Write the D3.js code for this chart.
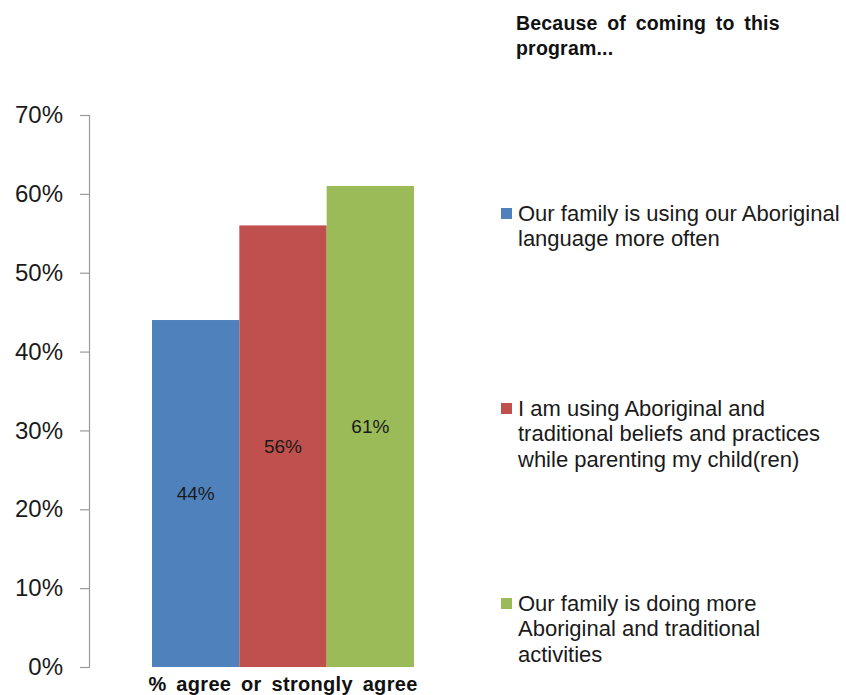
<!DOCTYPE html>
<html>
<head>
<meta charset="utf-8">
<script src="https://cdn.jsdelivr.net/npm/d3@7"></script>
<style>
  body { margin: 0; background: #fff; }
  svg { display: block; font-family: Arial, "Liberation Sans", sans-serif; }
</style>
</head>
<body>
<svg id="chart" width="846" height="695"></svg>
<script>
// Survey result: share agreeing or strongly agreeing, one bar per statement
const category = "% agree or strongly agree";
const seriesNames = [
  ["Our family is using our Aboriginal", "language more often"],
  ["I am using Aboriginal and", "traditional beliefs and practices", "while parenting my child(ren)"],
  ["Our family is doing more", "Aboriginal and traditional", "activities"]
];
const seriesValues = [0.44, 0.56, 0.61];
const seriesColors = ["#4f81bd", "#c0504d", "#9bbb59"];
const yTicks = [0, 0.1, 0.2, 0.3, 0.4, 0.5, 0.6, 0.7];
const titleLines = ["Because of coming to this", "program..."];

const svg = d3.select("#chart");

const plot = { left: 89, top: 115, bottom: 667, barLeft: 152, barRight: 414 };

const y = d3.scaleLinear().domain([0, 0.7]).range([plot.bottom, plot.top]);
const x = d3.scaleBand()
  .domain(d3.range(seriesValues.length))
  .range([plot.barLeft, plot.barRight])
  .padding(0);

// Value axis
const yAxis = d3.axisLeft(y)
  .tickValues(yTicks)
  .tickFormat(d3.format(".0%"))
  .tickSize(9)
  .tickPadding(17);

const ga = svg.append("g")
  .attr("transform", `translate(${plot.left},0)`)
  .call(yAxis);
ga.select(".domain").attr("stroke", "#9a9a9a").attr("stroke-width", 1.2);
ga.selectAll(".tick line").attr("stroke", "#9a9a9a").attr("stroke-width", 1.2);
ga.selectAll(".tick text")
  .attr("fill", "#1a1a1a")
  .style("font-size", "24px");

// Bars
svg.append("g").selectAll("rect")
  .data(seriesValues)
  .join("rect")
  .attr("x", (d, i) => x(i))
  .attr("y", d => y(d))
  .attr("width", x.bandwidth())
  .attr("height", d => y(0) - y(d))
  .attr("fill", (d, i) => seriesColors[i]);

// Value labels, centred in each bar
svg.append("g").selectAll("text")
  .data(seriesValues)
  .join("text")
  .attr("x", (d, i) => x(i) + x.bandwidth() / 2)
  .attr("y", d => (y(d) + y(0)) / 2)
  .attr("dy", "0.35em")
  .attr("text-anchor", "middle")
  .attr("fill", "#1a1a1a")
  .style("font-size", "19px")
  .text(d => d3.format(".0%")(d));

// Category label
svg.append("text")
  .attr("x", (plot.barLeft + plot.barRight) / 2)
  .attr("y", 691)
  .attr("text-anchor", "middle")
  .attr("font-weight", "bold")
  .style("font-size", "20px")
  .style("letter-spacing", "0.3px")
  .style("word-spacing", "4px")
  .attr("fill", "#111")
  .text(category);

// Legend title
svg.append("g").selectAll("text")
  .data(titleLines)
  .join("text")
  .attr("x", 516)
  .attr("y", (d, i) => 30 + i * 25)
  .attr("font-weight", "bold")
  .style("font-size", "19.5px")
  .style("letter-spacing", "0.2px")
  .style("word-spacing", "4px")
  .attr("fill", "#111")
  .text(d => d);

// Legend entries
const legendTops = [213, 408, 603];
const lg = svg.append("g").selectAll("g")
  .data(seriesNames)
  .join("g")
  .attr("transform", (d, i) => `translate(501,${legendTops[i]})`);

lg.append("rect")
  .attr("x", 0).attr("y", -5)
  .attr("width", 11).attr("height", 11)
  .attr("fill", (d, i) => seriesColors[i]);

lg.selectAll("text")
  .data(d => d)
  .join("text")
  .attr("x", 17)
  .attr("y", (d, i) => i * 25.5)
  .attr("dy", "0.35em")
  .attr("fill", "#1a1a1a")
  .style("font-size", "22px")
  .text(d => d);
</script>
</body>
</html>
